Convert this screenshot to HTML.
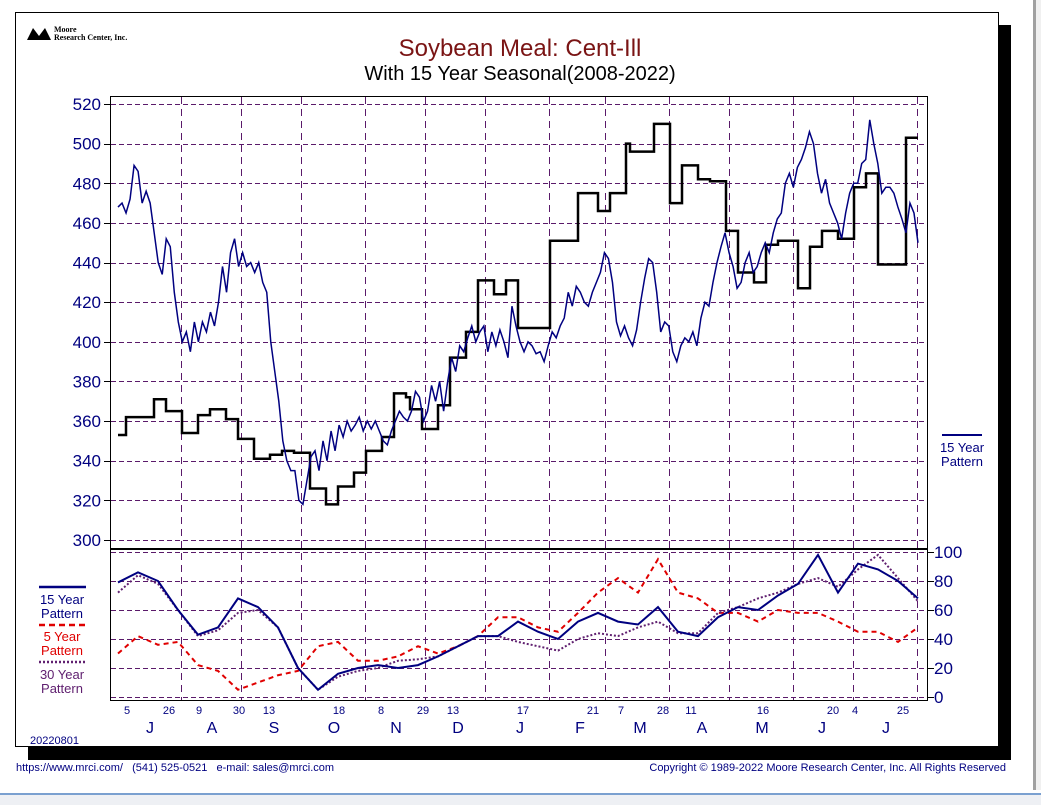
<!DOCTYPE html>
<html><head><meta charset="utf-8"><style>
html,body{margin:0;padding:0;background:#fff;width:1041px;height:805px;overflow:hidden;font-family:"Liberation Sans",sans-serif}
</style></head><body>
<svg width="1041" height="805" xmlns="http://www.w3.org/2000/svg" id="svg" style="font-family:'Liberation Sans',sans-serif">
<rect x="1033" y="0" width="3" height="790" fill="#a0a0a0"/>
<rect x="1036" y="0" width="5" height="790" fill="#f0f0f0"/>
<rect x="0" y="793" width="1041" height="2" fill="#7aa0d0"/>
<rect x="0" y="795" width="1041" height="10" fill="#eef0f4"/>
<rect x="28" y="25" width="983" height="735" fill="#000"/>
<rect x="15.5" y="12.5" width="983" height="734" fill="#fff" stroke="#000"/>
<g>
<polygon points="27,40 33,28 39,36 45,28 51,40" fill="#000"/>
<text x="54" y="32" font-size="8" font-family="Liberation Serif,serif" font-weight="bold">Moore</text>
<text x="54" y="40" font-size="8" font-family="Liberation Serif,serif" font-weight="bold">Research Center, Inc.</text>
</g>
<text x="520" y="56" text-anchor="middle" font-size="24" fill="#7a1414">Soybean Meal: Cent-Ill</text>
<text x="520" y="80" text-anchor="middle" font-size="20" fill="#000">With 15 Year Seasonal(2008-2022)</text>
<g id="grid"></g>
<g id="marks"></g>
<rect x="110.5" y="96.5" width="817" height="452" fill="none" stroke="#000"/>
<rect x="110.5" y="549.5" width="817" height="151" fill="none" stroke="#000"/>
<g id="axes"></g>
<g>
<line x1="942" y1="435" x2="982" y2="435" stroke="#000080" stroke-width="2"/>
<text x="962" y="452" text-anchor="middle" font-size="13" fill="#000080">15 Year</text>
<text x="962" y="466" text-anchor="middle" font-size="13" fill="#000080">Pattern</text>
</g>
<g>
<line x1="39" y1="587" x2="86" y2="587" stroke="#000080" stroke-width="2.5"/>
<text x="62" y="604" text-anchor="middle" font-size="13" fill="#000080">15 Year</text>
<text x="62" y="618" text-anchor="middle" font-size="13" fill="#000080">Pattern</text>
<line x1="39" y1="625" x2="86" y2="625" stroke="#e00000" stroke-width="2.5" stroke-dasharray="6,4"/>
<text x="62" y="641" text-anchor="middle" font-size="13" fill="#e00000">5 Year</text>
<text x="62" y="655" text-anchor="middle" font-size="13" fill="#e00000">Pattern</text>
<line x1="39" y1="662" x2="86" y2="662" stroke="#602070" stroke-width="2.5" stroke-dasharray="2,2"/>
<text x="62" y="679" text-anchor="middle" font-size="13" fill="#602070">30 Year</text>
<text x="62" y="693" text-anchor="middle" font-size="13" fill="#602070">Pattern</text>
</g>
<text x="30" y="744" font-size="11" fill="#000080">20220801</text>
<text x="16" y="771" font-size="11" fill="#000080">https://www.mrci.com/ &#160; (541) 525-0521 &#160; e-mail: sales@mrci.com</text>
<text x="1006" y="771" text-anchor="end" font-size="11" fill="#000080">Copyright © 1989-2022 Moore Research Center, Inc. All Rights Reserved</text>
</svg>
<script>
const priceTicks=[300,320,340,360,380,400,420,440,460,480,500,520];
const pctTicks=[0,20,40,60,80,100];
const dayLabels=["5","26","9","30","13","18","8","29","13","17","21","7","28","11","16","20","4","25"];
const dayLabelIdx=[2,12.5,20,30,37.5,55,65.5,76,83.5,101,118.5,125.5,136,143,161,178.5,184,196];
const monthLabels=["J","A","S","O","N","D","J","F","M","A","M","J","J"];
const monthIdx=[8,23.5,39,54,69.5,85,100.5,115.5,130.5,146,161,176,192];
const gridIdx=[16,31,46,62,77,92,108,122,138,153,169,184,200];
const price=[468,470,465,472,489,486,470,476,470,455,440,434,452,448,425,410,400,405,395,410,400,410,405,415,408,420,438,425,445,452,438,445,438,440,435,440,430,425,400,385,370,350,340,335,335,320,318,330,342,345,335,350,340,355,345,358,352,360,355,358,362,355,360,356,360,355,350,348,355,360,365,362,360,365,375,372,360,365,378,370,380,365,380,392,385,398,395,402,408,400,405,408,395,405,398,406,400,392,418,408,400,395,400,398,394,395,390,398,405,402,408,412,425,418,428,425,420,418,425,430,435,445,442,430,410,403,408,402,398,406,420,432,442,440,425,405,410,408,395,390,398,402,400,405,398,412,420,418,430,440,448,455,445,438,427,430,440,445,435,438,445,450,445,455,462,465,480,485,478,488,492,498,506,500,485,475,482,470,465,460,452,465,475,480,480,490,492,512,500,490,475,478,478,475,468,462,455,470,465,450];
const seasStart=[0,2,9,12,16,20,23,27,30,34,38,41,44,48,52,55,59,62,66,69,72,73,76,80,83,87,90,94,97,100,108,115,120,123,127,128,134,138,141,145,148,152,155,159,162,165,170,173,176,180,184,187,190,197];
const seasVal=[353,362,371,365,354,363,366,361,351,341,343,345,344,326,318,327,334,345,352,374,372,366,356,368,392,405,431,424,431,407,451,475,466,475,500,496,510,470,489,482,481,456,435,430,449,451,427,448,456,452,478,485,439,503];
const pct15=[79,86,80,60,43,48,68,62,48,20,5,16,20,22,20,22,28,35,42,42,52,45,40,52,58,52,50,62,45,42,55,62,60,70,78,98,72,92,88,80,68];
const pct5=[30,42,36,38,22,18,5,10,15,18,35,38,25,25,28,35,30,35,42,55,55,48,45,58,72,82,72,95,72,68,58,58,52,60,58,58,52,45,45,38,48];
const pct30=[72,84,78,60,42,46,58,60,48,20,5,14,18,20,25,26,28,35,42,42,38,35,32,40,44,42,48,52,44,44,58,62,68,72,78,82,76,88,98,82,66];

const NS='http://www.w3.org/2000/svg';
const X0=118,X1=918,NDAY=200;
const xDay=d=>X0+(X1-X0)*d/NDAY;
const yP=v=>540-(v-300)*(540-104)/220;
const yQ=v=>697-v*1.45;
const px=v=>Math.round(v)+0.5;
function mk(tag,attrs,parent){const e=document.createElementNS(NS,tag);for(const k in attrs)e.setAttribute(k,attrs[k]);document.getElementById(parent).appendChild(e);return e;}
priceTicks.forEach(v=>{
 const l=mk('line',{x1:111,x2:927,y1:px(yP(v)),y2:px(yP(v)),stroke:'#5a1a6a','stroke-dasharray':'5,3','stroke-width':1},'grid');
 
 
 const t=mk('text',{x:101,y:yP(v)+6,'text-anchor':'end','font-size':17,fill:'#000080'},'axes');t.textContent=v;
 
 
 mk('line',{x1:104,x2:111,y1:px(yP(v)),y2:px(yP(v)),stroke:'#000'},'axes');
});
pctTicks.forEach(v=>{
 const l=mk('line',{x1:111,x2:927,y1:px(yQ(v)),y2:px(yQ(v)),stroke:'#5a1a6a','stroke-dasharray':'5,3','stroke-width':1},'grid');
 
 
 const t=mk('text',{x:934,y:yQ(v)+6,'font-size':17,fill:'#000080'},'axes');t.textContent=v;
 
 
 mk('line',{x1:927,x2:934,y1:px(yQ(v)),y2:px(yQ(v)),stroke:'#000'},'axes');
});
gridIdx.forEach(d=>{
 const l=mk('line',{x1:px(xDay(d)-1),x2:px(xDay(d)-1),y1:97,y2:700,stroke:'#5a1a6a','stroke-dasharray':'7,5','stroke-width':1},'grid');
 
 
});
dayLabels.forEach((s,i)=>{
 const t=mk('text',{x:xDay(dayLabelIdx[i])+1,y:714,'text-anchor':'middle','font-size':11,fill:'#000080'},'axes');t.textContent=s;
 
 
});
monthLabels.forEach((s,i)=>{
 const t=mk('text',{x:xDay(monthIdx[i]),y:733,'text-anchor':'middle','font-size':16,fill:'#000080'},'axes');t.textContent=s;
 
 
});
let sd='';
seasVal.forEach((v,i)=>{const a=xDay(seasStart[i]);const b=xDay(i+1<seasStart.length?seasStart[i+1]:NDAY);sd+=(i?'L':'M')+a+','+yP(v)+'L'+b+','+yP(v);});
const sp=mk('path',{d:sd,fill:'none',stroke:'#000','stroke-width':2.5},'marks');


const pp=mk('path',{d:price.map((v,i)=>(i?'L':'M')+xDay(i*NDAY/(price.length-1))+','+yP(v)).join(''),fill:'none',stroke:'#000080','stroke-width':1.5},'marks');


function pl(arr,st,dash,w,name){
 const p=mk('path',{d:arr.map((v,i)=>(i?'L':'M')+xDay(i*NDAY/(arr.length-1))+','+yQ(v)).join(''),fill:'none',stroke:st,'stroke-width':w,'stroke-dasharray':dash},'marks');
 
 
}
pl(pct5,'#e00000','5,4',2,'pattern-5yr');
pl(pct30,'#602070','2,2',2,'pattern-30yr');
pl(pct15,'#000080','none',2,'pattern-15yr');
</script>
</body></html>
